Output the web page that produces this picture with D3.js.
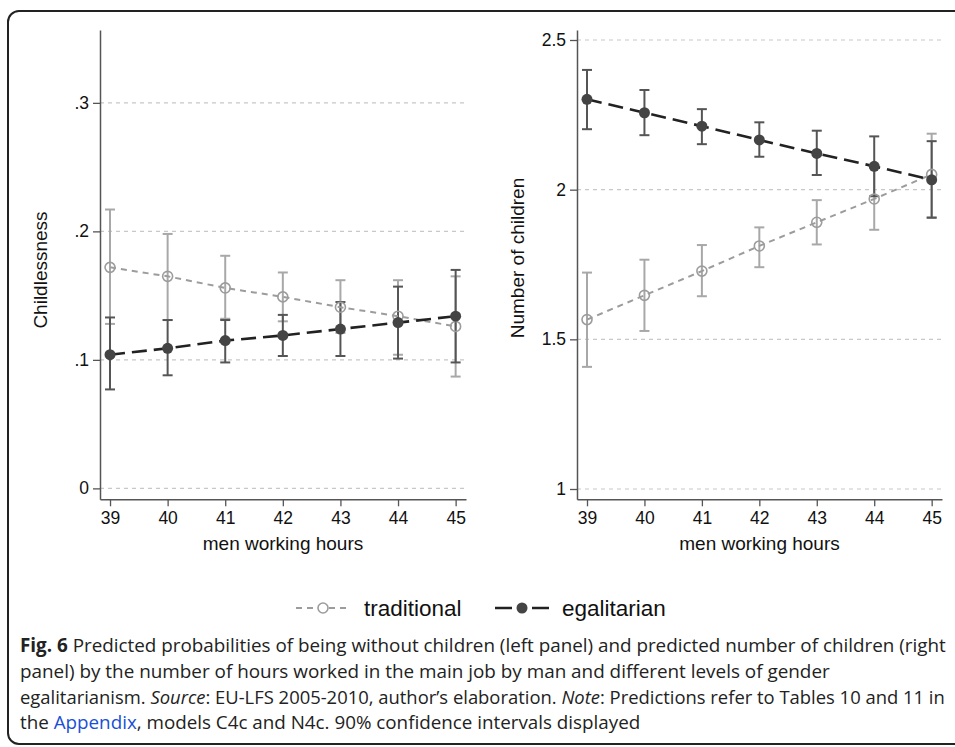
<!DOCTYPE html>
<html>
<head>
<meta charset="utf-8">
<script src="https://cdn.jsdelivr.net/npm/d3@7"></script>
<style>
html,body{margin:0;padding:0;background:#fff;}
svg{display:block;}
</style>
</head>
<body>
<svg id="chart" width="955" height="747"></svg>
<script>
// ---- data ----
const hours = [39, 40, 41, 42, 43, 44, 45];

const childTrad   = [0.172, 0.165, 0.156, 0.149, 0.141, 0.134, 0.126];
const childTradLo = [0.128, 0.131, 0.132, 0.130, 0.121, 0.104, 0.087];
const childTradHi = [0.217, 0.198, 0.181, 0.168, 0.162, 0.162, 0.165];
const childEgal   = [0.104, 0.109, 0.115, 0.119, 0.124, 0.129, 0.134];
const childEgalLo = [0.077, 0.088, 0.098, 0.103, 0.103, 0.101, 0.098];
const childEgalHi = [0.133, 0.131, 0.131, 0.135, 0.145, 0.157, 0.170];

const kidsTrad   = [1.566, 1.647, 1.728, 1.812, 1.891, 1.969, 2.051];
const kidsTradLo = [1.408, 1.528, 1.644, 1.741, 1.817, 1.866, 1.908];
const kidsTradHi = [1.723, 1.766, 1.815, 1.874, 1.965, 2.072, 2.187];
const kidsEgal   = [2.302, 2.257, 2.212, 2.166, 2.121, 2.078, 2.033];
const kidsEgalLo = [2.202, 2.182, 2.152, 2.110, 2.049, 1.978, 1.906];
const kidsEgalHi = [2.400, 2.333, 2.269, 2.225, 2.197, 2.178, 2.162];

const childTicks = [0, 0.1, 0.2, 0.3];
const childTickLabels = ["0", ".1", ".2", ".3"];
const kidsTicks = [1, 1.5, 2, 2.5];
const kidsTickLabels = ["1", "1.5", "2", "2.5"];

const seriesNames = ["traditional", "egalitarian"];
const xTitle = "men working hours";
const yTitles = ["Childlessness", "Number of children"];

// ---- drawing ----
const svg = d3.select("#chart");
const FONT = "'Liberation Sans', Arial, Helvetica, sans-serif";
const C_TRAD = "#9c9c9c", C_TRAD_BAR = "#a8a8a8";
const C_EGAL = "#222", C_EGAL_BAR = "#555", C_EGAL_PT = "#444";

// outer frame
svg.append("rect").attr("x", 8).attr("y", 11).attr("width", 980).attr("height", 733)
  .attr("rx", 11).attr("fill", "none").attr("stroke", "#222").attr("stroke-width", 2);

function panel(opt) {
  const g = svg.append("g");
  const x = d3.scaleLinear().domain([38.826, 45.18]).range([opt.x0, opt.x1]);
  const y = d3.scaleLinear().domain(opt.ydom).range([499.3, 30]);

  // grid
  g.selectAll(".grid").data(opt.ticks).join("line")
    .attr("x1", opt.x0).attr("x2", opt.x1)
    .attr("y1", d => y(d)).attr("y2", d => y(d))
    .attr("stroke", "#c8c8c8").attr("stroke-width", 1.2).attr("stroke-dasharray", "4,4");

  // axes
  const ya = g.append("g").attr("transform", `translate(${opt.x0},0)`)
    .call(d3.axisLeft(y).tickValues(opt.ticks).tickFormat((d, i) => opt.tickLabels[i]).tickSize(7).tickPadding(4).tickSizeOuter(0));
  const xa = g.append("g").attr("transform", `translate(0,499.3)`)
    .call(d3.axisBottom(x).tickValues(hours).tickFormat(d3.format("d")).tickSize(7).tickPadding(5).tickSizeOuter(0));
  [ya, xa].forEach(a => {
    a.attr("font-family", FONT).attr("font-size", 17.5);
    a.select(".domain").attr("stroke", "#555").attr("stroke-width", 1.5);
    a.selectAll(".tick line").attr("stroke", "#555").attr("stroke-width", 1.3);
    a.selectAll("text").attr("font-family", FONT).attr("font-size", 17.5).attr("fill", "#111");
  });

  // titles
  g.append("text").attr("x", (opt.x0 + opt.x1) / 2 + 0).attr("y", 550)
    .attr("text-anchor", "middle").attr("font-family", FONT).attr("font-size", 19).attr("fill", "#111")
    .text(xTitle);
  g.append("text").attr("transform", `translate(${opt.ytx},${opt.yty}) rotate(-90)`)
    .attr("text-anchor", "middle").attr("font-family", FONT).attr("font-size", 19).attr("fill", "#111")
    .text(opt.ytitle);

  function bars(lo, hi, color, w) {
    const d = hours.map((h, i) => ({h, lo: lo[i], hi: hi[i]}));
    g.selectAll(null).data(d).join("line")
      .attr("x1", p => x(p.h)).attr("x2", p => x(p.h))
      .attr("y1", p => y(p.lo)).attr("y2", p => y(p.hi))
      .attr("stroke", color).attr("stroke-width", w);
    ["lo", "hi"].forEach(k => {
      g.selectAll(null).data(d).join("line")
        .attr("x1", p => x(p.h) - 5).attr("x2", p => x(p.h) + 5)
        .attr("y1", p => y(p[k])).attr("y2", p => y(p[k]))
        .attr("stroke", color).attr("stroke-width", 2);
    });
  }
  bars(opt.tLo, opt.tHi, C_TRAD_BAR, 2);
  bars(opt.eLo, opt.eHi, C_EGAL_BAR, 2);

  const line = d3.line().x((d, i) => x(hours[i])).y(d => y(d));
  g.append("path").attr("d", line(opt.t)).attr("fill", "none")
    .attr("stroke", C_TRAD).attr("stroke-width", 2).attr("stroke-dasharray", "6,5");
  g.selectAll(null).data(opt.t).join("circle")
    .attr("cx", (d, i) => x(hours[i])).attr("cy", d => y(d)).attr("r", 5)
    .attr("fill", "none").attr("stroke", C_TRAD).attr("stroke-width", 1.6);

  g.append("path").attr("d", line(opt.e)).attr("fill", "none")
    .attr("stroke", C_EGAL).attr("stroke-width", 2.6).attr("stroke-dasharray", "15,7");
  g.selectAll(null).data(opt.e).join("circle")
    .attr("cx", (d, i) => x(hours[i])).attr("cy", d => y(d)).attr("r", 5.5)
    .attr("fill", C_EGAL_PT);
}

panel({x0: 100, x1: 466, ydom: [-0.0085, 0.3567], ticks: childTicks, tickLabels: childTickLabels,
  t: childTrad, tLo: childTradLo, tHi: childTradHi, e: childEgal, eLo: childEgalLo, eHi: childEgalHi,
  ytitle: yTitles[0], ytx: 47, yty: 270});
panel({x0: 577, x1: 942, ydom: [0.9656, 2.5334], ticks: kidsTicks, tickLabels: kidsTickLabels,
  t: kidsTrad, tLo: kidsTradLo, tHi: kidsTradHi, e: kidsEgal, eLo: kidsEgalLo, eHi: kidsEgalHi,
  ytitle: yTitles[1], ytx: 524, yty: 258});

// legend
const lg = svg.append("g");
lg.append("line").attr("x1", 296).attr("x2", 350).attr("y1", 608).attr("y2", 608)
  .attr("stroke", C_TRAD).attr("stroke-width", 2).attr("stroke-dasharray", "6,5");
lg.append("circle").attr("cx", 323).attr("cy", 608).attr("r", 5).attr("fill", "#fff")
  .attr("stroke", C_TRAD).attr("stroke-width", 1.6);
lg.append("text").attr("x", 364).attr("y", 616).attr("font-family", FONT).attr("font-size", 22.5)
  .attr("fill", "#111").text(seriesNames[0]);
lg.append("line").attr("x1", 495).attr("x2", 549).attr("y1", 608).attr("y2", 608)
  .attr("stroke", C_EGAL).attr("stroke-width", 2.6).attr("stroke-dasharray", "17,20");
lg.append("circle").attr("cx", 522).attr("cy", 608).attr("r", 5.5).attr("fill", C_EGAL_PT);
lg.append("text").attr("x", 562).attr("y", 616).attr("font-family", FONT).attr("font-size", 22.5)
  .attr("fill", "#111").text(seriesNames[1]);

// caption: each line is fitted to its width by choosing the font size
const CAP_FONT = "'Open Sans', sans-serif";
const cap = svg.append("g").attr("font-family", CAP_FONT).attr("fill", "#222");
function capLine(y, len, parts) {
  const base = 20;
  const els = parts.map(p => {
    const s = cap.append("text").attr("y", y).attr("font-size", base).text(p.t)
      .attr("xml:space", "preserve").style("white-space", "pre");
    if (p.b) s.attr("font-weight", "bold");
    if (p.i) s.attr("font-style", "italic");
    if (p.c) s.attr("fill", p.c);
    return s;
  });
  let total = 0;
  els.forEach(s => total += s.node().getComputedTextLength());
  const fs = Math.min(base, base * len / total);
  let xx = 20;
  els.forEach(s => {
    s.attr("font-size", fs).attr("x", xx);
    xx += s.node().getComputedTextLength();
  });
}
capLine(652, 926, [{t: "Fig. 6", b: 1}, {t: " Predicted probabilities of being without children (left panel) and predicted number of children (right"}]);
capLine(678, 810, [{t: "panel) by the number of hours worked in the main job by man and different levels of gender"}]);
capLine(704, 925, [{t: "egalitarianism. "}, {t: "Source", i: 1}, {t: ": EU-LFS 2005-2010, author\u2019s elaboration. "}, {t: "Note", i: 1}, {t: ": Predictions refer to Tables 10 and 11 in"}]);
capLine(729, 621, [{t: "the "}, {t: "Appendix", c: "#1a4fd6"}, {t: ", models C4c and N4c. 90% confidence intervals displayed"}]);
</script>
</body>
</html>
